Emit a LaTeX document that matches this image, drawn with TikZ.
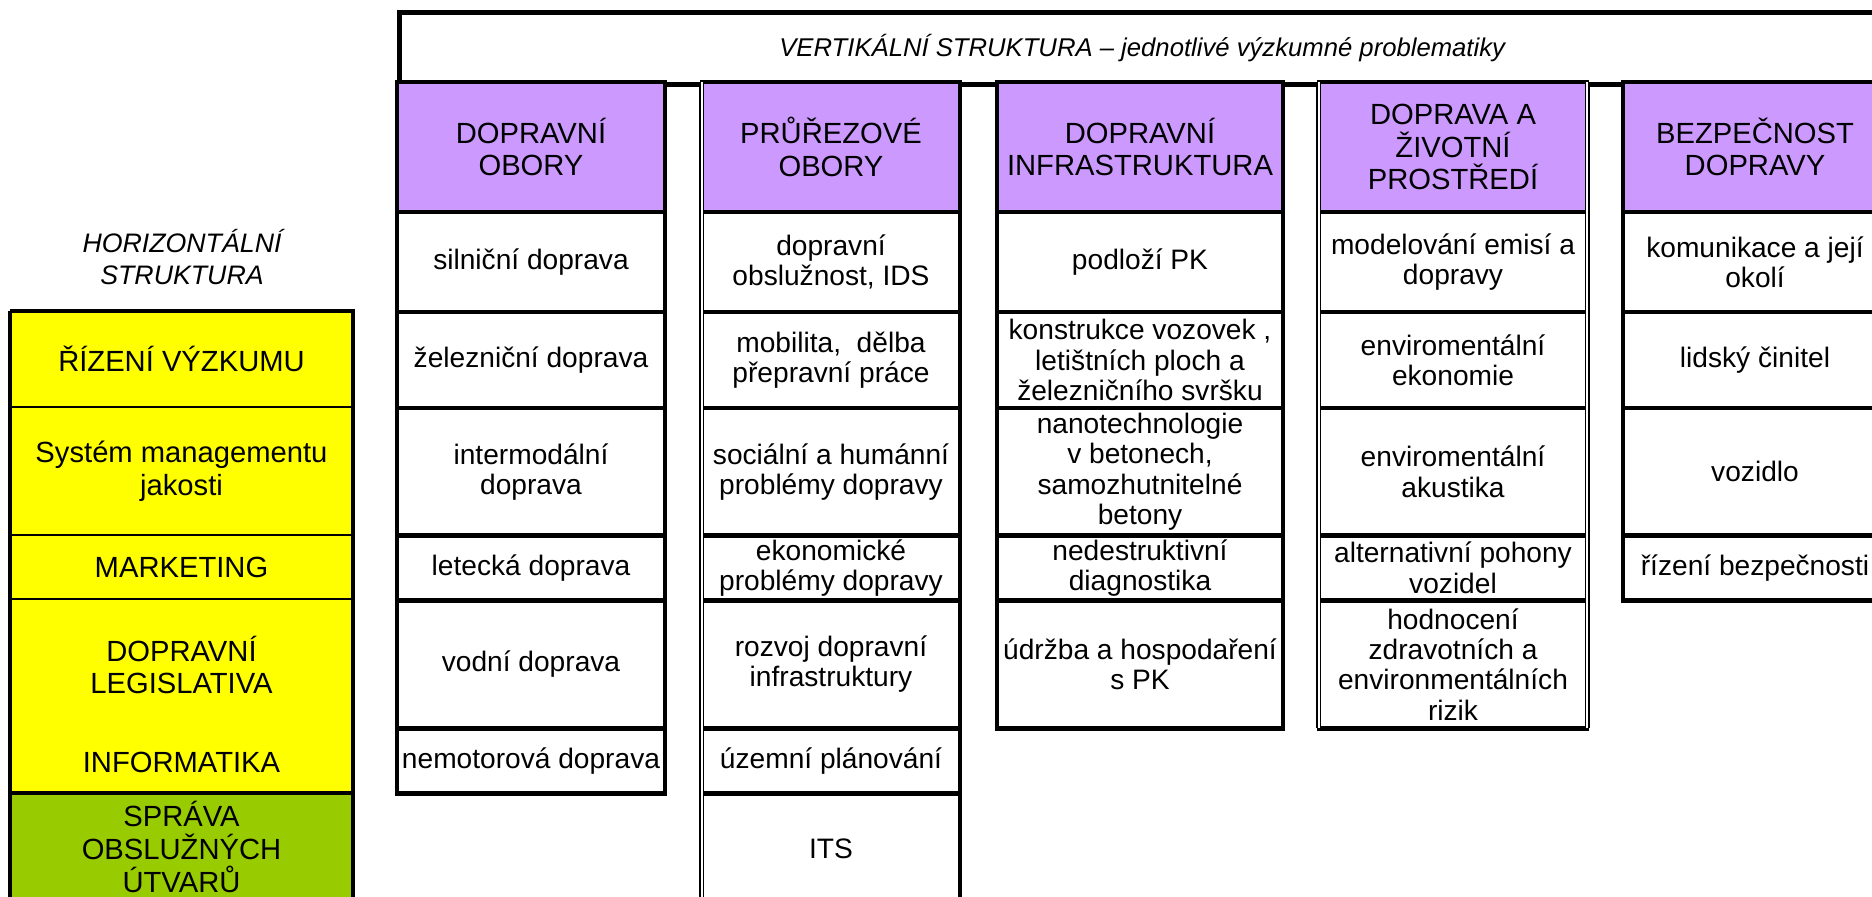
\documentclass[tikz,border=0pt]{standalone}
\usepackage{fontspec}
\setmainfont{Liberation Sans}
\usetikzlibrary{positioning}

\definecolor{hlavicka}{HTML}{CC99FF}
\definecolor{zluta}{HTML}{FFFF00}
\definecolor{zelena}{HTML}{99CC00}

\begin{document}
\begin{tikzpicture}[
    x=0.01cm, y=-0.01cm, node distance=0pt,
    head/.style={draw, line width=1.3pt, fill=hlavicka, minimum width=#1, minimum height=1.30cm, inner sep=0pt, outer sep=0pt, anchor=north, align=center, font=\fontsize{8.3}{9.2}\selectfont},
    cell/.style={draw, line width=1.3pt, fill=white, minimum width=#1, inner sep=0pt, outer sep=0pt, align=center, font=\fontsize{8}{8.6}\selectfont},
    band/.style={fill=zluta, minimum width=3.43cm, inner sep=0pt, outer sep=0pt, align=center, font=\fontsize{8.3}{9.2}\selectfont},
    thinline/.style={line width=0.4pt},
    dbl/.style={line width=0.45pt, double distance=0.5pt}
]
\useasboundingbox (0,0) rectangle (1872,896);

% vertikalni struktura
\node[draw, line width=1.3pt, minimum width=14.85cm, minimum height=0.72cm, inner sep=0pt, anchor=north west, font=\itshape\fontsize{7.3}{8}\selectfont] (vert) at (397,10) {VERTIKÁLNÍ STRUKTURA – jednotlivé výzkumné problematiky};

% dopravni obory
\node[head=2.68cm] (d0) at (531,82) {DOPRAVNÍ\\OBORY};
\node[cell=2.68cm, minimum height=1.00cm, below=of d0] (d1) {silniční doprava};
\node[cell=2.68cm, minimum height=0.96cm, below=of d1] (d2) {železniční doprava};
\node[cell=2.68cm, minimum height=1.27cm, below=of d2] (d3) {intermodální\\doprava};
\node[cell=2.68cm, minimum height=0.65cm, below=of d3] (d4) {letecká doprava};
\node[cell=2.68cm, minimum height=1.28cm, below=of d4] (d5) {vodní doprava};
\node[cell=2.68cm, minimum height=0.65cm, below=of d5] (d6) {nemotorová doprava};

% prurezove obory
\node[head=2.58cm] (p0) at (831,82) {PRŮŘEZOVÉ\\OBORY};
\node[cell=2.58cm, minimum height=1.00cm, below=of p0] (p1) {dopravní\\obslužnost, IDS};
\node[cell=2.58cm, minimum height=0.96cm, below=of p1] (p2) {mobilita,\ \ dělba\\přepravní práce};
\node[cell=2.58cm, minimum height=1.27cm, below=of p2] (p3) {sociální a humánní\\problémy dopravy};
\node[cell=2.58cm, minimum height=0.65cm, below=of p3] (p4) {ekonomické\\problémy dopravy};
\node[cell=2.58cm, minimum height=1.28cm, below=of p4] (p5) {rozvoj dopravní\\infrastruktury};
\node[cell=2.58cm, minimum height=0.65cm, below=of p5] (p6) {územní plánování};
\node[cell=2.58cm, minimum height=1.10cm, below=of p6] (p7) {ITS};

% dopravni infrastruktura
\node[head=2.86cm] (i0) at (1140,82) {DOPRAVNÍ\\INFRASTRUKTURA};
\node[cell=2.86cm, minimum height=1.00cm, below=of i0] (i1) {podloží PK};
\node[cell=2.86cm, minimum height=0.96cm, below=of i1] (i2) {konstrukce vozovek ,\\letištních ploch a\\železničního svršku};
\node[cell=2.86cm, minimum height=1.27cm, below=of i2] (i3) {nanotechnologie\\v betonech,\\samozhutnitelné\\betony};
\node[cell=2.86cm, minimum height=0.65cm, below=of i3] (i4) {nedestruktivní\\diagnostika};
\node[cell=2.86cm, minimum height=1.28cm, below=of i4] (i5) {údržba a hospodaření\\s PK};

% doprava a zivotni prostredi
\node[head=2.68cm] (z0) at (1453,82) {DOPRAVA A\\ŽIVOTNÍ\\PROSTŘEDÍ};
\node[cell=2.68cm, minimum height=1.00cm, below=of z0] (z1) {modelování emisí a\\dopravy};
\node[cell=2.68cm, minimum height=0.96cm, below=of z1] (z2) {enviromentální\\ekonomie};
\node[cell=2.68cm, minimum height=1.27cm, below=of z2] (z3) {enviromentální\\akustika};
\node[cell=2.68cm, minimum height=0.65cm, below=of z3] (z4) {alternativní pohony\\vozidel};
\node[cell=2.68cm, minimum height=1.28cm, below=of z4] (z5) {hodnocení\\zdravotních a\\environmentálních\\rizik};

% bezpecnost dopravy
\node[head=2.64cm] (b0) at (1755,82) {BEZPEČNOST\\DOPRAVY};
\node[cell=2.64cm, minimum height=1.00cm, below=of b0] (b1) {komunikace a její\\okolí};
\node[cell=2.64cm, minimum height=0.96cm, below=of b1] (b2) {lidský činitel};
\node[cell=2.64cm, minimum height=1.27cm, below=of b2] (b3) {vozidlo};
\node[cell=2.64cm, minimum height=0.65cm, below=of b3] (b4) {řízení bezpečnosti};

\draw[dbl] (p0.north west) -- (p7.south west);
\draw[dbl] (z0.north west) -- (z5.south west);
\draw[dbl] (z0.north east) -- (z5.south east);

% horizontalni struktura
\node[font=\itshape\fontsize{7.6}{9.1}\selectfont, align=center] (horiz) at (182,257) {HORIZONTÁLNÍ\\STRUKTURA};
\node[band, minimum height=0.96cm, anchor=north] (r1) at (181.5,311) {ŘÍZENÍ VÝZKUMU};
\node[band, minimum height=1.28cm, below=of r1] (r2) {Systém managementu\\jakosti};
\node[band, minimum height=0.64cm, below=of r2] (r3) {MARKETING};
\node[band, minimum height=1.32cm, below=of r3] (r4) {DOPRAVNÍ\\LEGISLATIVA};
\node[band, minimum height=0.62cm, below=of r4] (r5) {INFORMATIKA};
\node[band, fill=zelena, minimum height=1.08cm, below=of r5, font=\fontsize{8.3}{9.4}\selectfont] (r6) {SPRÁVA\\OBSLUŽNÝCH\\ÚTVARŮ};
\draw[thinline] (r1.south west) -- (r1.south east);
\draw[thinline] (r2.south west) -- (r2.south east);
\draw[thinline] (r3.south west) -- (r3.south east);
\draw[line width=1.1pt] (r5.south west) -- (r5.south east);
\draw[line width=1pt] (r1.north west) -- (r1.north east) -- ([yshift=-0.2cm]r6.south east) ([yshift=-0.2cm]r6.south west) -- (r1.north west);
\end{tikzpicture}
\end{document}
